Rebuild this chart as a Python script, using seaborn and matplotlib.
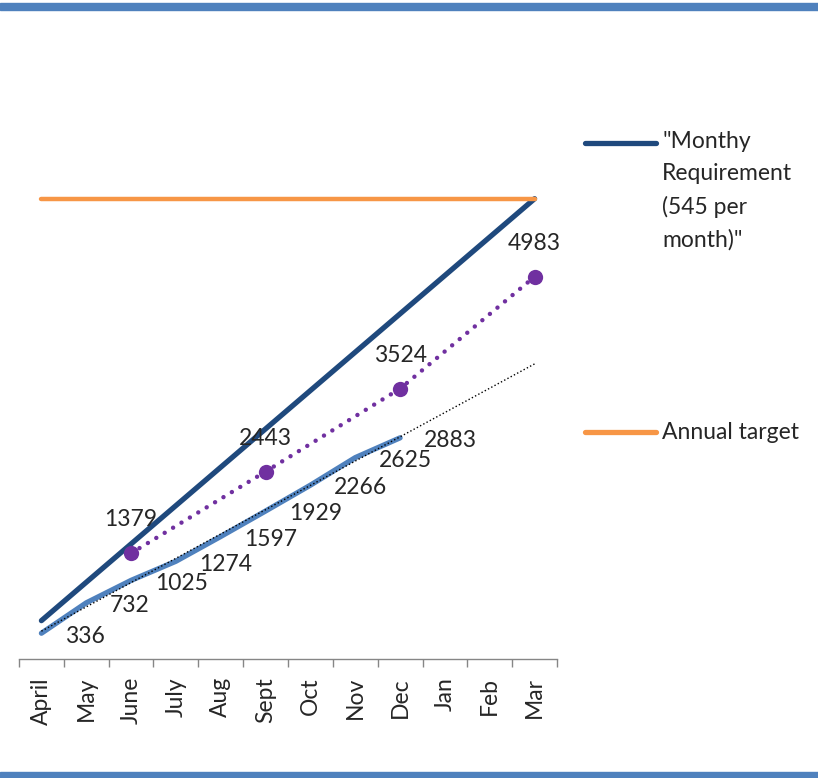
import numpy as np
import matplotlib.pyplot as plt
import seaborn as sns
from matplotlib.lines import Line2D
from matplotlib.patches import Rectangle

# --- data ---
months = ['April', 'May', 'June', 'July', 'Aug', 'Sept', 'Oct', 'Nov', 'Dec', 'Jan', 'Feb', 'Mar']
requirement = [500, 1000, 1500, 2000, 2500, 3000, 3500, 4000, 4500, 5000, 5500, 6000]
annual_target = [6000, 6000, 6000, 6000, 6000, 6000, 6000, 6000, 6000, 6000, 6000, 6000]
actual = [336, 732, 1025, 1274, 1597, 1929, 2266, 2625, 2883]
quarter_months = ['June', 'Sept', 'Dec', 'Mar']
quarter_values = [1379, 2443, 3524, 4983]

sns.set_style('white')
plt.rcParams['font.family'] = ['Lato', 'DejaVu Sans']
FS = 16.5

x_all = np.arange(len(months))
x_act = np.arange(len(actual))
x_q = [months.index(m) for m in quarter_months]

# linear trendline of the actual figures (Excel-style), extended to March
slope, intercept = np.polyfit(x_act, actual, 1)
trend = intercept + slope * x_all

fig = plt.figure(figsize=(8.18, 7.78), dpi=100)
ax = fig.add_axes([19 / 818, 119 / 778, 538 / 818, 537 / 778])

sns.lineplot(x=x_all, y=requirement, color='#1F497D', lw=3.8,
             solid_capstyle='round', ax=ax)
sns.lineplot(x=x_all, y=annual_target, color='#F79646', lw=3.2,
             solid_capstyle='round', ax=ax)
sns.lineplot(x=x_act, y=actual, color='#4F81BD', lw=3.8,
             solid_capstyle='round', ax=ax)
sns.lineplot(x=x_all, y=trend, color='black', lw=1.0, linestyle=':', ax=ax)
sns.lineplot(x=x_q, y=quarter_values, color='#7030A0', lw=3.2,
             linestyle=(0, (0.01, 2.2)), dash_capstyle='round',
             marker='o', markersize=11, markeredgewidth=0, ax=ax)

# data labels
for xi, v in zip(x_act, actual):
    ax.annotate(str(v), (xi, v), xytext=(17, -2), textcoords='offset points',
                ha='left', va='center', fontsize=FS)
for xi, v in zip(x_q, quarter_values):
    ax.annotate(str(v), (xi, v), xytext=(0, 24), textcoords='offset points',
                ha='center', va='center', fontsize=FS)

ax.set_xlim(-0.5, 11.5)
ax.set_ylim(0, 7000)
ax.set_yticks([])
ax.set_xticks(x_all)
ax.set_xticklabels(months, rotation=90, fontsize=FS)
ax.set_xticks(np.arange(-0.5, 12, 1), minor=True)
ax.tick_params(axis='x', which='major', length=0, pad=13)
ax.tick_params(axis='x', which='minor', bottom=True, length=6, width=1,
               color='#868686', direction='out')
sns.despine(ax=ax, left=True)
ax.spines['bottom'].set_color('#868686')
ax.spines['bottom'].set_linewidth(1)
ax.set_xlabel('')
ax.set_ylabel('')

# legend on the right
W, H = 818, 778
fig.add_artist(Line2D([585 / W, 656 / W], [1 - 143 / H, 1 - 143 / H], color='#1F497D',
                      lw=3.8, solid_capstyle='round', transform=fig.transFigure))
fig.text(662 / W, 1 - 131 / H, '"Monthy\nRequirement\n(545 per\nmonth)"', fontsize=FS,
         ha='left', va='top', linespacing=1.65)
fig.add_artist(Line2D([585 / W, 656 / W], [1 - 432 / H, 1 - 432 / H], color='#F79646',
                      lw=3.8, solid_capstyle='round', transform=fig.transFigure))
fig.text(662 / W, 1 - 432 / H, 'Annual target', fontsize=FS, ha='left', va='center')

# blue frame bars top and bottom
fig.add_artist(Rectangle((0, 1 - 10 / H), 1, 6.5 / H, color='#4F81BD',
                         transform=fig.transFigure))
fig.add_artist(Rectangle((0, 0), 1, 6 / H, color='#4F81BD',
                         transform=fig.transFigure))

fig.savefig('out.png', dpi=100)
